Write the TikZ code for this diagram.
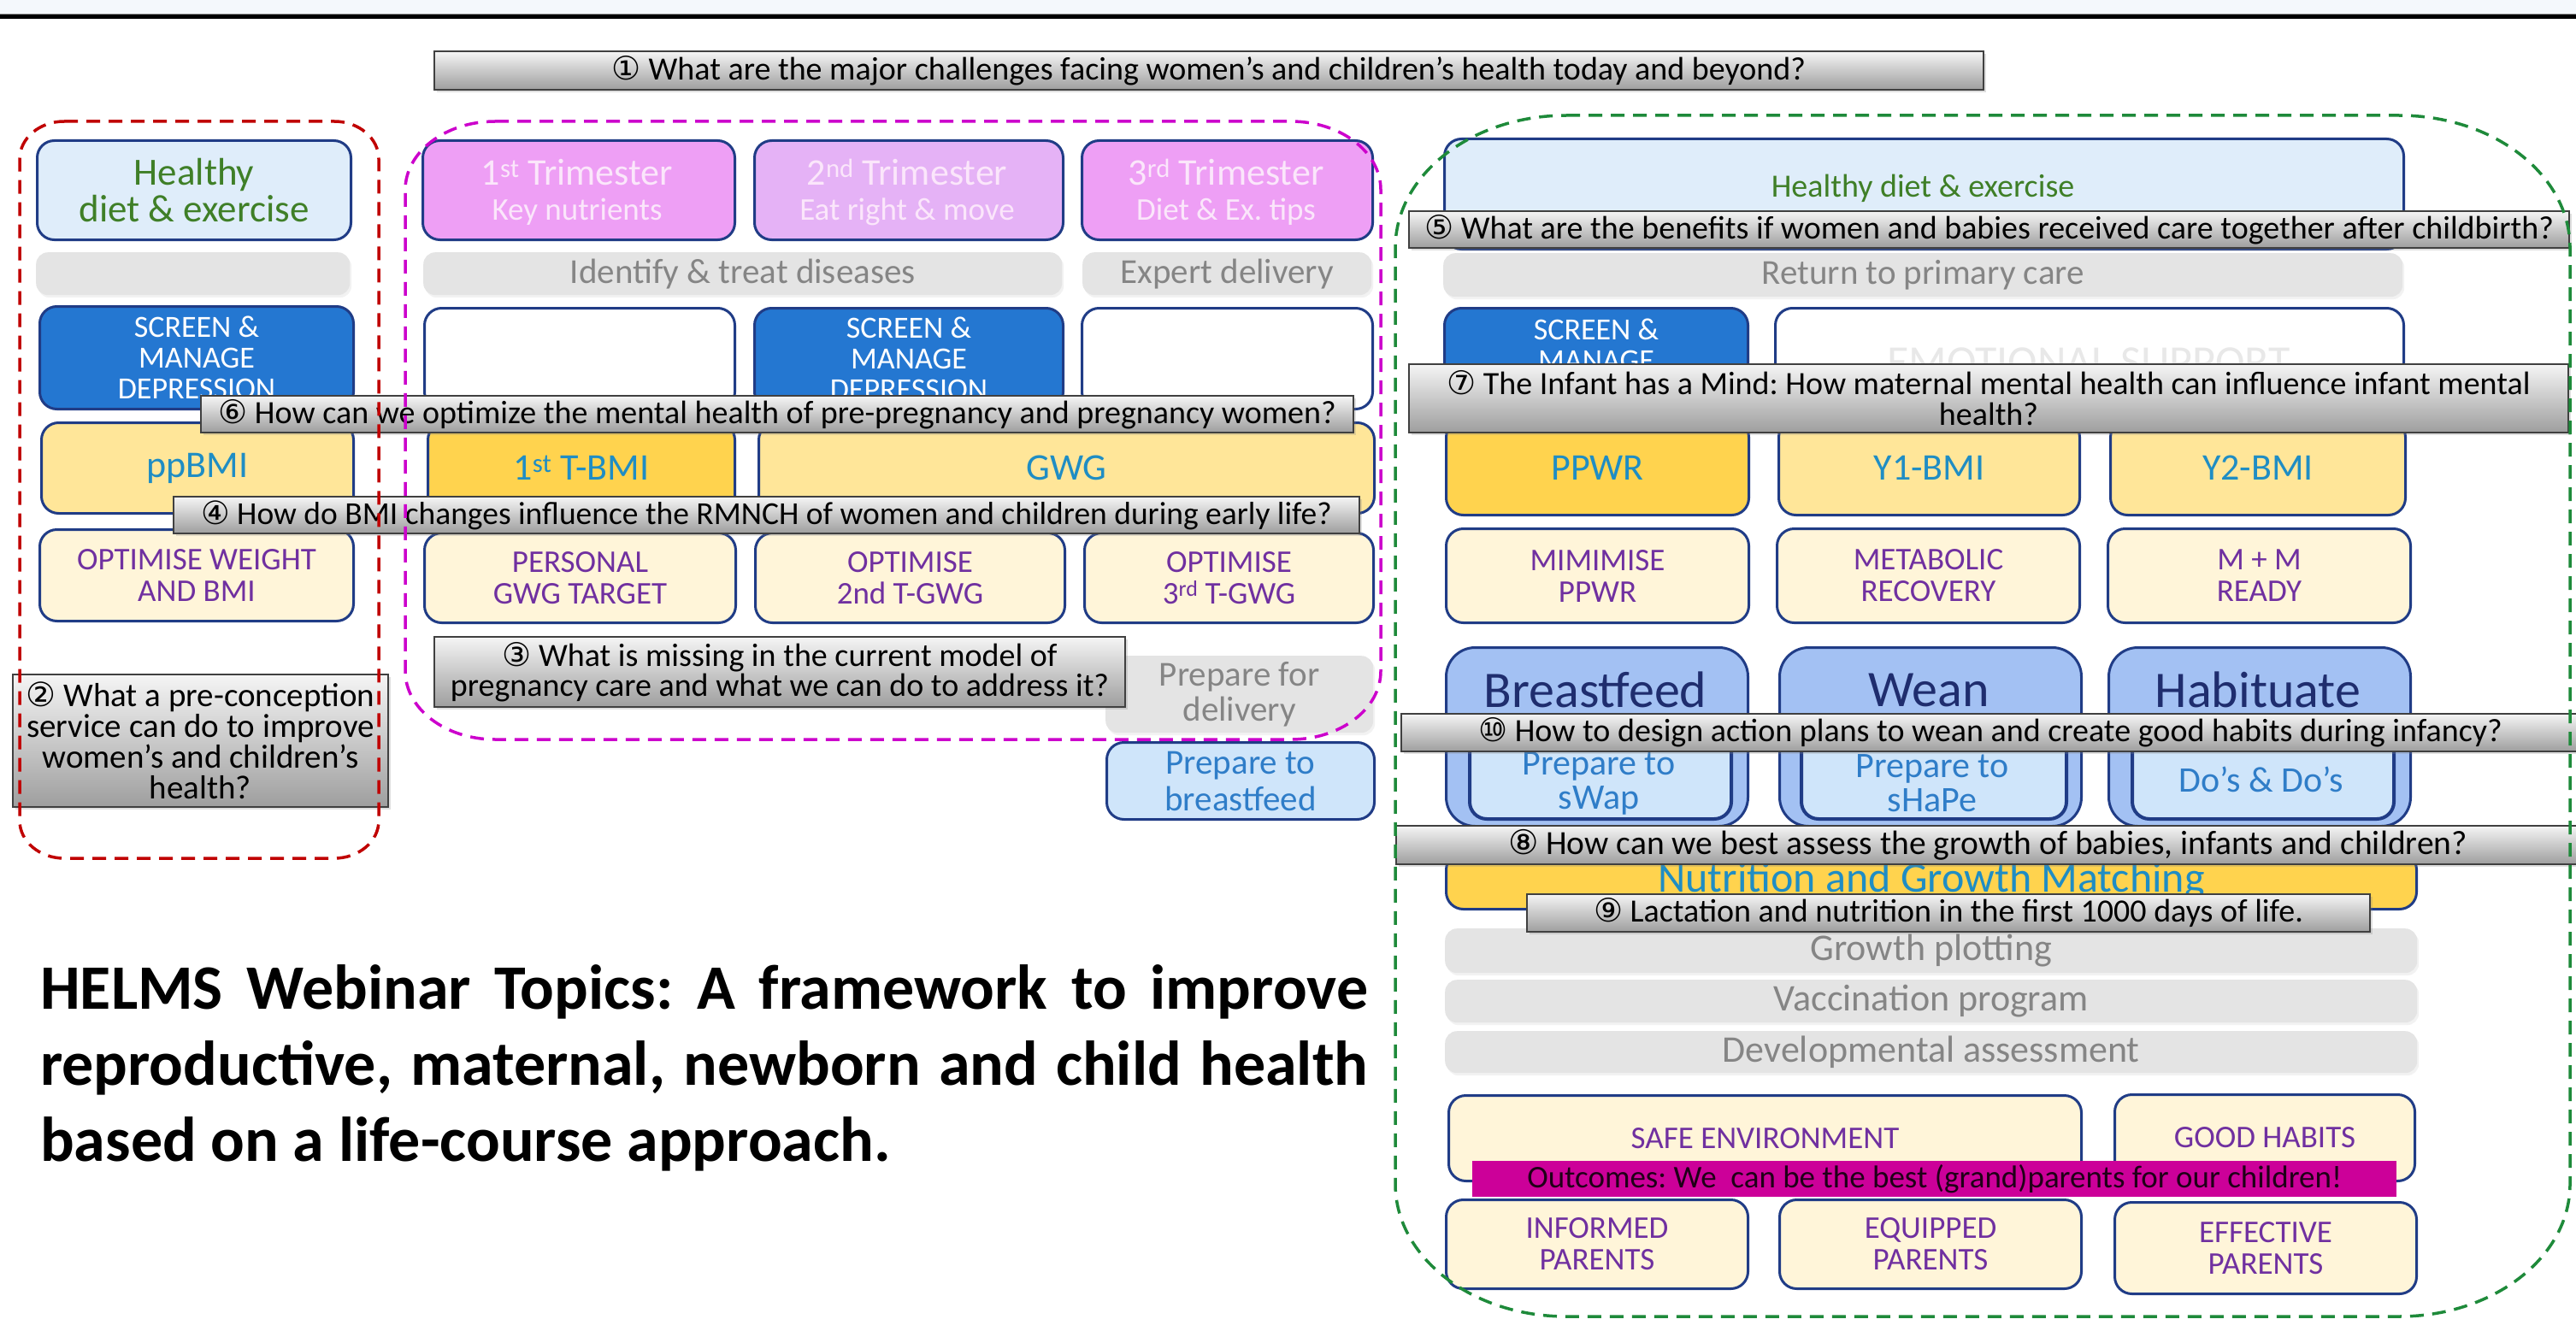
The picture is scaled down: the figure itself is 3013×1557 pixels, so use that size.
\documentclass[tikz,border=0pt]{standalone}
\usepackage{fontspec}
\setmainfont{Carlito}
\newfontfamily\dvs{DejaVu Sans}
\usetikzlibrary{shadows}
\definecolor{bord}{HTML}{203C86}
\definecolor{lblue}{HTML}{DFEDFA}
\definecolor{dgreen}{HTML}{3F7F27}
\definecolor{stripgray}{HTML}{E4E4E4}
\definecolor{textgray}{HTML}{858585}
\definecolor{scrblue}{HTML}{2477D1}
\definecolor{pinka}{HTML}{EE9FF5}
\definecolor{pinkb}{HTML}{E5B2F6}
\definecolor{pinktext}{HTML}{FBE6FB}
\definecolor{ylw}{HTML}{FFE699}
\definecolor{gold}{HTML}{FFD34E}
\definecolor{teal}{HTML}{1F8DC4}
\definecolor{cream}{HTML}{FFF5D9}
\definecolor{purp}{HTML}{7030A0}
\definecolor{peri}{HTML}{A3C1F3}
\definecolor{innerb}{HTML}{CFE5FA}
\definecolor{navy}{HTML}{1F2D6E}
\definecolor{innert}{HTML}{2F7DC8}
\definecolor{magbar}{HTML}{CC0099}
\definecolor{dred}{HTML}{C00000}
\definecolor{dmag}{HTML}{CC00CC}
\definecolor{dgrn}{HTML}{1E8A3A}
\definecolor{topstrip}{HTML}{F4F8FC}
\newcommand{\fs}[2]{\fontsize{#1}{#2}\selectfont}
\newcommand{\cn}[1]{{\dvs #1}}
\newcommand{\bx}[7][]{\node[#1, anchor=north west, minimum width={(#5-#3)*1pt}, minimum height={(#6-#4)*1pt}] (#2) at (#3,-#4) {#7};}
\newcommand{\erect}[7]{\draw[#1] (#2+#6,-#3) -- (#4-#6,-#3) arc[start angle=90,end angle=0,x radius=#6,y radius=#7] -- (#4,-#5+#7) arc[start angle=0,end angle=-90,x radius=#6,y radius=#7] -- (#2+#6,-#5) arc[start angle=270,end angle=180,x radius=#6,y radius=#7] -- (#2,-#3-#7) arc[start angle=180,end angle=90,x radius=#6,y radius=#7] -- cycle;}
\tikzset{
  box/.style={draw=bord, line width=3pt, rounded corners=20pt, inner sep=2pt, align=center},
  lbbox/.style={box, fill=lblue, text=dgreen, font=\fs{45}{43}},
  strip/.style={fill=stripgray, rounded corners=14pt, text=textgray, font=\fs{41}{41}, align=center, inner sep=2pt, drop shadow={opacity=0.10, shadow xshift=2pt, shadow yshift=-3pt}},
  scr/.style={box, fill=scrblue, text=white, font=\fs{36}{36}},
  pka/.style={box, fill=pinka},
  pkb/.style={box, fill=pinkb},
  tritext/.style={text=pinktext, anchor=base, inner sep=0pt},
  wht/.style={box, fill=white},
  ylwbox/.style={box, fill=ylw, text=teal, font=\fs{44}{44}},
  goldbox/.style={box, fill=gold, text=teal, font=\fs{44}{44}},
  crm/.style={box, fill=cream, text=purp, font=\fs{37}{37}},
  ltb/.style={box, fill=innerb, text=innert, font=\fs{41}{43}},
  peri/.style={box, fill=peri, rounded corners=34pt},
  innerbox/.style={box, fill=innerb, line width=4pt},
  innertext/.style={text=innert, font=\fs{42}{40}, align=center, inner sep=0pt},
  bigtxt/.style={text=navy, font=\fs{60}{60}, inner sep=0pt},
  qbox/.style={draw=black!75, line width=2pt, top color=white!96!black, bottom color=white!62!black, font=\fs{38}{36}, text=black, align=center, inner sep=0pt, drop shadow={opacity=0.25, shadow xshift=3pt, shadow yshift=-3pt}},
  outb/.style={fill=magbar, text=black!85!magbar, font=\fs{37}{37}, inner sep=0pt},
  ttl/.style={font=\bfseries\fs{74}{88}, anchor=base west, inner sep=0pt},
  dashline/.style={line width=3.5pt, dash pattern=on 16pt off 10pt},
}
\newcommand{\trit}[4]{%
  \node[tritext, font=\fs{44}{44}] (#1a) at (#2,-217) {#3};
  \node[tritext, font=\fs{37}{37}] (#1b) at (#2,-257) {#4};}
\frenchspacing
\begin{document}
\begin{tikzpicture}[x=1pt,y=1pt]
\useasboundingbox (0,0) rectangle (3013,-1557);
\fill[white] (0,0) rectangle (3013,-1557);
% top strip
\fill[topstrip] (0,0) rectangle (3013,-16);
\draw[black!45, line width=1.5pt] (0,-16.5) -- (3013,-16.5);
\draw[black, line width=4.5pt] (0,-19.5) -- (3013,-19.5);

% ---------- left column ----------
\bx[lbbox]{hd1}{42}{163}{409}{279}{Healthy\\diet \& exercise}
\bx[strip]{g1}{42}{295}{409}{345}{}
\bx[scr]{sm1}{45}{357}{412}{477}{SCREEN \&\\MANAGE\\DEPRESSION}
\bx[ylwbox]{ppbmi}{47}{493}{412}{599}{ppBMI}
\bx[crm]{ow}{45}{618}{412}{725}{OPTIMISE WEIGHT\\AND BMI}

% ---------- middle column ----------
\bx[pka]{t1}{493}{163}{858}{279}{}
\bx[pkb]{t2}{881}{163}{1242}{279}{}
\bx[pka]{t3}{1264}{163}{1604}{279}{}
\trit{t1}{675}{1\textsuperscript{st} Trimester}{Key nutrients}
\trit{t2}{1061}{2\textsuperscript{nd} Trimester}{Eat right \& move}
\trit{t3}{1434}{3\textsuperscript{rd} Trimester}{Diet \& Ex. tips}
\bx[strip]{idt}{495}{295}{1242}{345}{Identify \& treat diseases}
\bx[strip]{exd}{1266}{295}{1604}{345}{Expert delivery}
\bx[wht]{w1}{495}{359}{858}{477}{}
\bx[scr]{sm2}{881}{359}{1242}{477}{SCREEN \&\\MANAGE\\DEPRESSION}
\bx[wht]{w3}{1264}{359}{1604}{477}{}
\bx[goldbox]{tbmi}{499}{493}{858}{599}{1\textsuperscript{st} T-BMI}
\bx[ylwbox]{gwg}{886}{493}{1606}{599}{GWG}
\bx[crm]{pgt}{495}{622}{859}{727}{PERSONAL\\GWG TARGET}
\bx[crm]{o2}{882}{622}{1244}{727}{OPTIMISE\\2nd T-GWG}
\bx[crm]{o3}{1267}{622}{1605}{727}{OPTIMISE\\3\textsuperscript{rd} T-GWG}
\bx[strip]{pfd}{1293}{767}{1606}{857}{Prepare for\\delivery}
\bx[ltb]{ptb}{1293}{867}{1606}{957}{Prepare to\\breastfeed}

% ---------- right column ----------
\bx[lbbox]{hd2}{1688}{161}{2810}{290}{}
\node[text=dgreen, font=\fs{38}{38}, inner sep=0pt] (hd2t) at (2249,-220) {Healthy diet \& exercise};
\bx[strip]{rpc}{1688}{296}{2810}{347}{Return to primary care}
\bx[scr]{sm3}{1688}{359}{2043}{480}{SCREEN \&\\MANAGE\\DEPRESSION}
\bx[wht]{emo}{2075}{359}{2810}{480}{}
\node[text=black!9, font=\fs{52}{52}, anchor=base, inner sep=0pt] (emot) at (2443,-440) {EMOTIONAL SUPPORT};
\bx[goldbox]{ppwr}{1690}{490}{2044}{601}{PPWR}
\bx[ylwbox]{y1}{2079}{490}{2431}{601}{Y1-BMI}
\bx[ylwbox]{y2}{2467}{490}{2812}{601}{Y2-BMI}
\bx[crm]{mppwr}{1690}{617}{2044}{727}{MIMIMISE\\PPWR}
\bx[crm]{metr}{2077}{617}{2431}{727}{METABOLIC\\RECOVERY}
\bx[crm]{mmr}{2464}{617}{2818}{727}{M + M\\READY}
\bx[peri]{bfo}{1690}{756}{2043}{965}{}
\bx[peri]{wno}{2080}{756}{2433}{965}{}
\bx[peri]{hbo}{2465}{756}{2818}{965}{}
\node[bigtxt] (bft) at (1866,-807) {Breastfeed};
\node[bigtxt] (wnt) at (2256,-807) {Wean};
\node[bigtxt] (hbt) at (2641,-807) {Habituate};
\bx[innerbox]{bfi}{1717}{858}{2023}{956}{}
\bx[innerbox]{wni}{2105}{858}{2415}{956}{}
\bx[innerbox]{hbi}{2492}{858}{2798}{956}{}
\node[innertext] (bfit) at (1870,-916) {Prepare to\\sWap};
\node[innertext] (wnit) at (2260,-916) {Prepare to\\sHaPe};
\node[innertext] (hbit) at (2645,-912) {Do’s \& Do’s};
\bx[goldbox, font=\fs{50}{50}]{ngm}{1690}{996}{2825}{1062}{Nutrition and Growth Matching}
\bx[strip, font=\fs{44}{44}]{gp}{1690}{1086}{2827}{1138}{Growth plotting}
\bx[strip, font=\fs{44}{44}]{vp}{1690}{1146}{2827}{1196}{Vaccination program}
\bx[strip, font=\fs{44}{44}]{da}{1690}{1206}{2827}{1255}{Developmental assessment}
\bx[crm]{se}{1693}{1280}{2433}{1380}{SAFE ENVIRONMENT}
\bx[crm]{gh}{2472}{1279}{2823}{1380}{GOOD HABITS}
\bx[crm]{ip}{1690}{1402}{2043}{1506}{INFORMED\\PARENTS}
\bx[crm]{ep}{2080}{1402}{2433}{1506}{EQUIPPED\\PARENTS}
\bx[crm]{efp}{2472}{1405}{2825}{1512}{EFFECTIVE\\PARENTS}
\bx[outb]{outc}{1722}{1358}{2803}{1400}{Outcomes: We\ \ can be the best (grand)parents for our children!}

% ---------- question boxes ----------
\bx[qbox]{q1}{507}{59}{2319}{104}{\cn{①} What are the major challenges facing women’s and children’s health today and beyond?}
\bx[qbox]{q6}{234}{462}{1582}{505}{\cn{⑥} How can we optimize the mental health of pre-pregnancy and pregnancy women?}
\bx[qbox, font=\fs{37.5}{36}]{q4}{202}{580}{1589}{623}{\cn{④} How do BMI changes influence the RMNCH of women and children during early life?}
\bx[qbox, font=\fs{38}{35}]{q3}{507}{744}{1315}{826}{\cn{③} What is missing in the current model of\\pregnancy care and what we can do to address it?}
\bx[qbox, font=\fs{39}{36}]{q2}{14}{788}{453}{943}{\cn{②} What a pre-conception\\service can do to improve\\women’s and children’s\\health?}
\bx[qbox]{q5}{1647}{246}{3004}{289}{\cn{⑤} What are the benefits if women and babies received care together after childbirth?}
\bx[qbox]{q7}{1647}{425}{3003}{505}{\cn{⑦} The Infant has a Mind: How maternal mental health can influence infant mental\\health?}
\bx[qbox]{q10}{1638}{834}{3016}{878}{\cn{⑩} How to design action plans to wean and create good habits during infancy?}
\bx[qbox, font=\fs{39.5}{36}]{q8}{1632}{965}{3016}{1010}{\cn{⑧} How can we best assess the growth of babies, infants and children?}
\bx[qbox]{q9}{1785}{1045}{2771}{1089}{\cn{⑨} Lactation and nutrition in the first 1000 days of life.}

% ---------- title ----------
\node[ttl] (ttl1) at (47,-1180) {\makebox[1553pt][s]{HELMS Webinar Topics: A framework to improve}};
\node[ttl] (ttl2) at (47,-1269) {\makebox[1553pt][s]{reproductive, maternal, newborn and child health}};
\node[ttl] (ttl3) at (47,-1358) {based on a life-course approach.};

% ---------- dashed groups ----------
\erect{dashline, draw=dred}{23}{142}{443}{1004}{52}{44}
\erect{dashline, draw=dmag}{474}{142}{1615}{865}{105}{80}
\erect{dashline, draw=dgrn}{1632}{135}{3006}{1540}{200}{155}
\end{tikzpicture}
\end{document}
